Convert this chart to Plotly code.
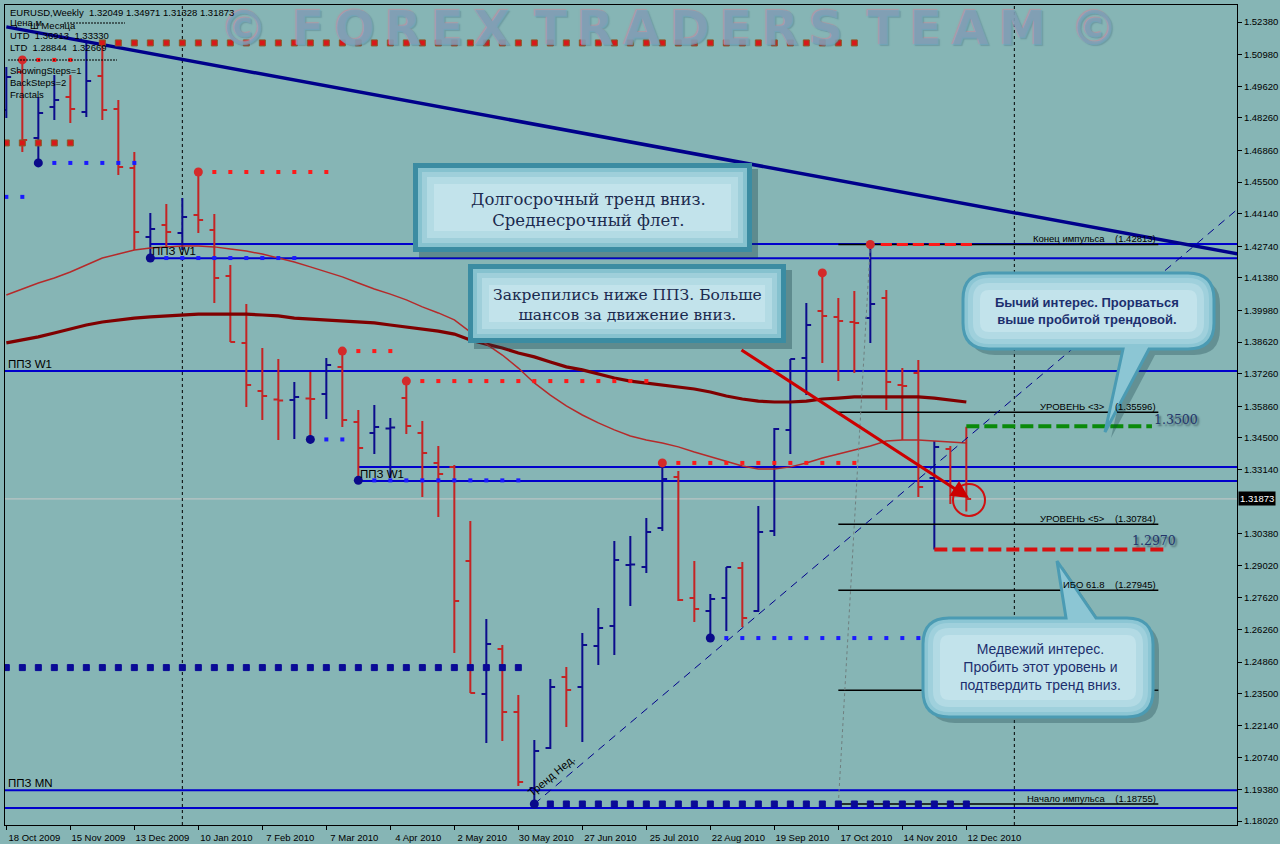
import plotly.graph_objects as go
import pandas as pd

# ---------------- data ----------------
week_dates = pd.date_range("2009-10-18", periods=61, freq="7D")

opens = [1.4860, 1.5023, 1.4739, 1.4873, 1.4916, 1.4851, 1.5006, 1.4864, 1.4610, 1.4314,
         1.4365, 1.4331, 1.4408, 1.4344, 1.4146, 1.3858, 1.3651, 1.3615, 1.3613, 1.3619,
         1.3638, 1.3755, 1.3518, 1.3471, 1.3490, 1.3621, 1.3471, 1.3342, 1.3325, 1.2920,
         1.2348, 1.2542, 1.2271, 1.1944, 1.2116, 1.2422, 1.2379, 1.2555, 1.2641, 1.2903,
         1.2895, 1.3062, 1.3282, 1.2761, 1.2705, 1.2761, 1.2890, 1.2705, 1.3049, 1.3484,
         1.3793, 1.3995, 1.3970, 1.3948, 1.3965, 1.4051, 1.3677, 1.3729, 1.3277, 1.3402,
         1.32049]
highs = [1.5045, 1.5075, 1.4916, 1.5010, 1.5010, 1.5148, 1.5148, 1.4903, 1.4679, 1.4417,
         1.4455, 1.4481, 1.4593, 1.4412, 1.4193, 1.4025, 1.3836, 1.3789, 1.3690, 1.3733,
         1.3793, 1.3823, 1.3570, 1.3591, 1.3535, 1.3694, 1.3522, 1.3415, 1.3333, 1.3092,
         1.2671, 1.2559, 1.2344, 1.2151, 1.2413, 1.2465, 1.2611, 1.2718, 1.3006, 1.3028,
         1.3105, 1.3342, 1.3307, 1.2920, 1.2778, 1.2895, 1.2916, 1.3157, 1.3492, 1.3789,
         1.4030, 1.4159, 1.4051, 1.4081, 1.42813, 1.4086, 1.3750, 1.3785, 1.3436, 1.3415,
         1.34971]
lows = [1.4825, 1.4679, 1.4632, 1.4817, 1.4804, 1.4830, 1.4817, 1.4580, 1.4258, 1.4223,
        1.4271, 1.4258, 1.4331, 1.4030, 1.3862, 1.3583, 1.3527, 1.3441, 1.3445, 1.3443,
        1.3531, 1.3497, 1.3267, 1.3380, 1.3277, 1.3466, 1.3196, 1.3110, 1.2525, 1.2353,
        1.2138, 1.2146, 1.1953, 1.18755, 1.2112, 1.2207, 1.2142, 1.2473, 1.2516, 1.2727,
        1.2869, 1.3049, 1.2748, 1.2658, 1.2589, 1.2619, 1.2637, 1.2701, 1.3028, 1.3380,
        1.3634, 1.3772, 1.3694, 1.3729, 1.3858, 1.3570, 1.3441, 1.3196, 1.2970, 1.3165,
        1.31328]
closes = [1.5002, 1.4731, 1.4847, 1.4903, 1.4864, 1.4984, 1.4860, 1.4615, 1.4335, 1.4348,
          1.4335, 1.4400, 1.4387, 1.4137, 1.3862, 1.3677, 1.3630, 1.3610, 1.3626, 1.3617,
          1.3763, 1.3527, 1.3406, 1.3497, 1.3494, 1.3501, 1.3385, 1.3294, 1.2748, 1.2353,
          1.2563, 1.2271, 1.1970, 1.2103, 1.2379, 1.2366, 1.2559, 1.2632, 1.2925, 1.2905,
          1.3045, 1.3273, 1.2753, 1.2714, 1.2757, 1.2895, 1.2675, 1.3045, 1.3488, 1.3789,
          1.3935, 1.3974, 1.3952, 1.3944, 1.4025, 1.3690, 1.3673, 1.3239, 1.3411, 1.3205,
          1.31873]

ma_fast = [1.4064, 1.4090, 1.4116, 1.4137, 1.4163, 1.4193, 1.4223, 1.4240, 1.4258, 1.4266,
           1.4271, 1.4275, 1.4275, 1.4271, 1.4262, 1.4253, 1.4240, 1.4223, 1.4206, 1.4185,
           1.4163, 1.4142, 1.4116, 1.4090, 1.4068, 1.4043, 1.4013, 1.3987, 1.3957, 1.3905,
           1.3853, 1.3806, 1.3750, 1.3686, 1.3634, 1.3587, 1.3548, 1.3514, 1.3484, 1.3458,
           1.3441, 1.3428, 1.3411, 1.3389, 1.3368, 1.3350, 1.3329, 1.3316, 1.3316, 1.3325,
           1.3342, 1.3363, 1.3380, 1.3398, 1.3415, 1.3436, 1.3441, 1.3441, 1.3436, 1.3432,
           1.3428]
ma_slow = [1.3858, 1.3871, 1.3884, 1.3901, 1.3918, 1.3935, 1.3948, 1.3957, 1.3965, 1.3970,
           1.3974, 1.3978, 1.3982, 1.3982, 1.3982, 1.3982, 1.3978, 1.3974, 1.3965, 1.3961,
           1.3957, 1.3952, 1.3948, 1.3944, 1.3935, 1.3927, 1.3918, 1.3909, 1.3896, 1.3871,
           1.3853, 1.3836, 1.3815, 1.3798, 1.3776, 1.3755, 1.3742, 1.3724, 1.3707, 1.3694,
           1.3686, 1.3677, 1.3669, 1.3660, 1.3647, 1.3630, 1.3617, 1.3608, 1.3604, 1.3604,
           1.3608, 1.3617, 1.3621, 1.3626, 1.3626, 1.3626, 1.3626, 1.3626, 1.3621, 1.3613,
           1.3604]

# fractal points (bar indices)
fractal_high_bars = [1, 12, 21, 25, 41, 51, 54]
fractal_low_bars = [2, 9, 19, 22, 33, 44]

# fractal levels continued as dotted rows: source bar, H/L, last bar of the row
level_src_bar = [1, 2, 9, 12, 19, 21, 22, 25, 41, 44, 54]
level_kind = ["H", "L", "L", "H", "L", "H", "L", "H", "H", "L", "H"]
level_last_bar = [4, 8, 18, 20, 21, 24, 32, 40, 53, 60, 60]

# higher-timeframe levels (big squares)
htf_prices = [1.5148, 1.4718, 1.2462, 1.18755]
htf_first_bar = [6, 0, 0, 34]
htf_last_bar = [53, 4, 32, 60]
htf_kind = ["H", "H", "L", "L"]
small_blue_price, small_blue_bars = 1.4486, [0, 1]

# support/resistance zone lines (ППЗ)
zone_prices = [1.4283, 1.4222, 1.3737, 1.3324, 1.3264, 1.1935, 1.1858]
zone_first_bar = [9, 9, 0, 22, 22, 0, 0]
zone_label_text = ["ППЗ W1", "ППЗ W1", "ППЗ W1", "ППЗ MN"]
zone_label_price = [1.4222, 1.3737, 1.3264, 1.1935]
zone_label_bar = [9, 0, 22, 0]

# Fibonacci levels
fib_prices = [1.42813, 1.35596, 1.30784, 1.27945, 1.23650, 1.18755]
fib_names = ["Конец импульса", "УРОВЕНЬ &lt;3&gt;", "УРОВЕНЬ &lt;5&gt;", "ИБО 61.8", "", "Начало импульса"]
fib_bars = [52, 72]
fib_diag_bars = [52, 54]
fib_diag_prices = [1.18755, 1.42813]

# trend lines (bar index, price)
long_trend_bars = [0, 77]
long_trend_prices = [1.5217, 1.4240]
week_trend_bars = [33, 77]
week_trend_prices = [1.18755, 1.4436]

# target levels
target_prices = [1.3500, 1.2970]
target_first_bar = [60, 58]
target_last_bar = [71.6, 72.5]

y_ticks = [1.52380, 1.50980, 1.49620, 1.48260, 1.46860, 1.45500, 1.44140, 1.42740, 1.41380,
           1.39980, 1.38620, 1.37260, 1.35860, 1.34500, 1.33140, 1.30380, 1.29020, 1.27620,
           1.26260, 1.24860, 1.23500, 1.22140, 1.20740, 1.19380, 1.18020]
last_price = 1.31873

# ---------------- helpers ----------------
BG = "#86b5b5"
UP = "#0c0c8c"
DN = "#c42424"
ZONE = "#0000cc"
FONT = "Liberation Sans"

d0 = week_dates[0]


def bar_date(i):
    return d0 + pd.Timedelta(days=7 * i)


# plot area in pixels: x 5..1237, y 5..825
PL, PR, PT, PB = 5, 1237, 5, 825


def X(px):
    return (px - PL) / (PR - PL)


def Y(py):
    return 1 - (py - PT) / (PB - PT)


def fx(px):
    return f"{X(px):.5f}"


def fy(py):
    return f"{Y(py):.5f}"


fig = go.Figure()

# moving averages
fig.add_trace(go.Scatter(x=week_dates, y=ma_slow, mode="lines",
                         line=dict(color="#7f0000", width=3.2), hoverinfo="skip"))
fig.add_trace(go.Scatter(x=week_dates, y=ma_fast, mode="lines",
                         line=dict(color="#b52a2a", width=1.5), hoverinfo="skip"))

# price bars
fig.add_trace(go.Ohlc(x=week_dates, open=opens, high=highs, low=lows, close=closes,
                      increasing=dict(line=dict(color=UP, width=2)),
                      decreasing=dict(line=dict(color=DN, width=2)),
                      tickwidth=0.3, hoverinfo="skip"))

# fib lines
for p in fib_prices:
    fig.add_trace(go.Scatter(x=[bar_date(fib_bars[0]), bar_date(fib_bars[1])], y=[p, p],
                             mode="lines", line=dict(color="black", width=1.5), hoverinfo="skip"))
fig.add_trace(go.Scatter(x=[bar_date(b) for b in fib_diag_bars], y=fib_diag_prices, mode="lines",
                         line=dict(color="#6f7f7f", width=1, dash="dot"), hoverinfo="skip"))

# trend lines
fig.add_trace(go.Scatter(x=[bar_date(b) for b in long_trend_bars], y=long_trend_prices, mode="lines",
                         line=dict(color="#00008b", width=3.5), hoverinfo="skip"))
fig.add_trace(go.Scatter(x=[bar_date(b) for b in week_trend_bars], y=week_trend_prices, mode="lines",
                         line=dict(color="#00008b", width=1, dash="8px,6px"), hoverinfo="skip"))

# fractal level rows
for b, k, last in zip(level_src_bar, level_kind, level_last_bar):
    price = highs[b] if k == "H" else lows[b]
    xs = [bar_date(i) for i in range(b + 1, last + 1)]
    col = "#ff1a1a" if k == "H" else "#1a1aff"
    sym = "line-ew-open" if b == 54 else "square"
    fig.add_trace(go.Scatter(x=xs, y=[price] * len(xs), mode="markers",
                             marker=dict(symbol=sym, size=4 if sym == "square" else 8, color=col,
                                         line=dict(width=3 if sym != "square" else 0, color=col)),
                             hoverinfo="skip"))
xs = [bar_date(i) for i in small_blue_bars]
fig.add_trace(go.Scatter(x=xs, y=[small_blue_price] * len(xs), mode="markers",
                         marker=dict(symbol="square", size=4, color="#1a1aff"), hoverinfo="skip"))
for p, a, z, k in zip(htf_prices, htf_first_bar, htf_last_bar, htf_kind):
    xs = [bar_date(i) for i in range(a, z + 1)]
    col = "#d81818" if k == "H" else "#0a0a96"
    fig.add_trace(go.Scatter(x=xs, y=[p] * len(xs), mode="markers",
                             marker=dict(symbol="square", size=6, color=col,
                                         line=dict(width=1, color="#8a5a2a" if k == "H" else "#0a0a96")),
                             hoverinfo="skip"))

# fractal dots
fig.add_trace(go.Scatter(x=[week_dates[i] for i in fractal_high_bars], y=[highs[i] for i in fractal_high_bars],
                         mode="markers", marker=dict(size=9, color="#d42a2a"), hoverinfo="skip"))
fig.add_trace(go.Scatter(x=[week_dates[i] for i in fractal_low_bars], y=[lows[i] for i in fractal_low_bars],
                         mode="markers", marker=dict(size=9, color="#0a0a8a"), hoverinfo="skip"))

# target dashed lines
fig.add_trace(go.Scatter(x=[bar_date(target_first_bar[0]), bar_date(target_last_bar[0])],
                         y=[target_prices[0]] * 2, mode="lines",
                         line=dict(color="#0a8a0a", width=4, dash="13px,5px"), hoverinfo="skip"))
fig.add_trace(go.Scatter(x=[bar_date(target_first_bar[1]), bar_date(target_last_bar[1])],
                         y=[target_prices[1]] * 2, mode="lines",
                         line=dict(color="#d81010", width=4, dash="13px,5px"), hoverinfo="skip"))

shapes = []
annotations = []

# zone lines (below traces)
for p, b in zip(zone_prices, zone_first_bar):
    x0 = bar_date(b) if b > 0 else bar_date(-2)
    shapes.append(dict(type="line", xref="x", yref="y", x0=x0, x1=bar_date(90), y0=p, y1=p,
                       line=dict(color=ZONE, width=2), layer="below"))
# current price line
shapes.append(dict(type="line", xref="paper", yref="y", x0=0, x1=1, y0=last_price, y1=last_price,
                   line=dict(color="#c8c8c8", width=1), layer="below"))
# period separators
for d in ["2010-01-03", "2011-01-02"]:
    shapes.append(dict(type="line", xref="x", yref="paper", x0=d, x1=d, y0=0, y1=1,
                       line=dict(color="black", width=1, dash="3px,3px"), layer="below"))


def rect_box(x0, y0, x1, y1):
    shapes.append(dict(type="rect", xref="paper", yref="paper", x0=X(x0 + 6), x1=X(x1 + 6),
                       y0=Y(y1 + 6), y1=Y(y0 + 6), fillcolor="rgba(20,60,70,0.35)", line_width=0))
    fills = ["#3b8ca2", "#86c2cf", "#9fcfda", "#b3dbe4", "#c2e3eb"]
    insets = [0, 5, 9, 14, 21]
    for f, ins in zip(fills, insets):
        shapes.append(dict(type="rect", xref="paper", yref="paper", x0=X(x0 + ins), x1=X(x1 - ins),
                           y0=Y(y1 - ins), y1=Y(y0 + ins), fillcolor=f, line_width=0))


def callout(x0, y0, x1, y1, r, tail=None, inset=0, dx=0, dy=0):
    x0 += inset + dx; x1 += -inset + dx; y0 += inset + dy; y1 += -inset + dy
    r = max(r - inset, 3)
    s = f"M{fx(x0 + r)},{fy(y0)}"
    if tail and tail[0] == "top":
        _, bx0, bx1, tx, ty = tail
        s += f" L{fx(bx0 + dx)},{fy(y0)} L{fx(tx + dx)},{fy(ty + dy)} L{fx(bx1 + dx)},{fy(y0)}"
    s += f" L{fx(x1 - r)},{fy(y0)} Q{fx(x1)},{fy(y0)} {fx(x1)},{fy(y0 + r)}"
    s += f" L{fx(x1)},{fy(y1 - r)} Q{fx(x1)},{fy(y1)} {fx(x1 - r)},{fy(y1)}"
    if tail and tail[0] == "bottom":
        _, bx0, bx1, tx, ty = tail
        s += f" L{fx(bx1 + dx)},{fy(y1)} L{fx(tx + dx)},{fy(ty + dy)} L{fx(bx0 + dx)},{fy(y1)}"
    s += f" L{fx(x0 + r)},{fy(y1)} Q{fx(x0)},{fy(y1)} {fx(x0)},{fy(y1 - r)}"
    s += f" L{fx(x0)},{fy(y0 + r)} Q{fx(x0)},{fy(y0)} {fx(x0 + r)},{fy(y0)} Z"
    return s


def rounded_box(x0, y0, x1, y1, r, tail):
    shapes.append(dict(type="path", xref="paper", yref="paper",
                       path=callout(x0, y0, x1, y1, r, tail, dx=6, dy=6),
                       fillcolor="rgba(20,60,70,0.30)", line_width=0))
    shapes.append(dict(type="path", xref="paper", yref="paper", path=callout(x0, y0, x1, y1, r, tail),
                       fillcolor="#8cc6d4", line=dict(color="#4b9bb3", width=3)))
    for f, ins in zip(["#9fd0dc", "#b2dae4", "#c2e3eb"], [5, 10, 17]):
        shapes.append(dict(type="path", xref="paper", yref="paper", path=callout(x0, y0, x1, y1, r, None, ins),
                           fillcolor=f, line_width=0))


rect_box(413, 163, 752, 252)
rect_box(468, 264, 786, 343)
rounded_box(963, 273, 1214, 349, 26, ("bottom", 1123, 1149, 1105, 432))
rounded_box(923, 618, 1153, 717, 26, ("top", 1066, 1096, 1057, 561))

# red circle
shapes.append(dict(type="circle", xref="paper", yref="paper", x0=X(953), x1=X(985), y0=Y(516), y1=Y(484),
                   line=dict(color="#d01010", width=2)))

TXT = "#1b2a4e"


def centered(x, y, text, font):
    annotations.append(dict(xref="paper", yref="paper", x=X(x), y=Y(y), xanchor="center", yanchor="middle",
                            showarrow=False, text=text, font=font, align="center"))


centered(588, 210, "Долгосрочный тренд вниз.<br>Среднесрочный флет.",
         dict(family="DejaVu Serif", size=16.5, color=TXT))
centered(627, 305, "Закрепились ниже ППЗ. Больше<br>шансов за движение вниз.",
         dict(family="DejaVu Serif", size=15.5, color=TXT))
centered(1087, 311, "<b>Бычий интерес. Прорваться<br>выше пробитой трендовой.</b>",
         dict(family=FONT, size=13, color="#1c2f6e"))
centered(1040, 667, "Медвежий интерес.<br>Пробить этот уровень и<br>подтвердить тренд вниз.",
         dict(family=FONT, size=14, color="#1c2f6e"))

# red arrow
annotations.append(dict(xref="paper", yref="paper", x=X(969), y=Y(498), ax=-229, ay=-149, text="",
                        showarrow=True, arrowhead=2, arrowsize=1.1, arrowwidth=3.2, arrowcolor="#cc0000",
                        standoff=0))

# zone labels
for t, p, b in zip(zone_label_text, zone_label_price, zone_label_bar):
    if b == 0:
        annotations.append(dict(xref="paper", yref="y", x=0, y=p, xanchor="left", yanchor="bottom",
                                text=t, showarrow=False, yshift=-1, xshift=1,
                                font=dict(family=FONT, size=11.5, color="black")))
    else:
        annotations.append(dict(xref="x", yref="y", x=week_dates[b], y=p, xanchor="left", yanchor="bottom",
                                text=t, showarrow=False, yshift=-1,
                                font=dict(family=FONT, size=11.5, color="black")))

# fib labels
for name, p in zip(fib_names, fib_prices):
    if not name:
        continue
    annotations.append(dict(xref="x", yref="y", x=bar_date(fib_bars[1]), y=p, xanchor="right",
                            yanchor="bottom", showarrow=False, yshift=-2,
                            text=f"{name}\u00a0\u00a0\u00a0\u00a0({p:.5f})",
                            font=dict(family=FONT, size=9.5, color="black")))

# target labels
annotations.append(dict(xref="x", yref="y", x=bar_date(target_last_bar[0]), y=target_prices[0],
                        xanchor="left", yanchor="middle", showarrow=False, text=f"{target_prices[0]:.4f}",
                        yshift=7,
                        font=dict(family="DejaVu Serif", size=12.5, color="#24346a",
                                  shadow="2px 2px 2px rgba(20,40,50,0.6)")))
annotations.append(dict(xref="x", yref="y", x=bar_date(target_last_bar[1]) - pd.Timedelta(days=16),
                        y=target_prices[1], xanchor="left", yanchor="middle", showarrow=False,
                        text=f"{target_prices[1]:.4f}", yshift=9,
                        font=dict(family="DejaVu Serif", size=12.5, color="#24346a",
                                  shadow="2px 2px 2px rgba(20,40,50,0.6)")))

# trend label
annotations.append(dict(xref="paper", yref="paper", x=X(551), y=Y(776), xanchor="center", yanchor="middle",
                        showarrow=False, textangle=-40,
                        text="Тренд Нед.", font=dict(family=FONT, size=11, color="black")))

# watermark
wm = "\u2002".join("\u2009".join(w) for w in ["©", "FOREX", "TRADERS", "TEAM", "©"])
annotations.append(dict(xref="paper", yref="paper", x=X(669), y=Y(28), xanchor="center", yanchor="middle",
                        showarrow=False, text=f"<b>{wm}</b>", borderpad=0,
                        font=dict(family="DejaVu Sans", size=48, color="rgba(112,168,192,0.70)",
                                  shadow="-1px -1px 1px rgba(205,130,150,0.85), 1px 1px 1px rgba(70,110,130,0.5)")))

# header info texts
hdr = [("EURUSD,Weekly  1.32049 1.34971 1.31328 1.31873", 8, 12),
       ("Цена м", 8, 22), ("Ш Месяца", 28, 25),
       ("UTD  1.36913  1.33330", 8, 35), ("LTD  1.28844  1.32669", 8, 47),
       ("ShowingSteps=1", 8, 71), ("BackSteps=2", 8, 83), ("Fractals", 8, 95)]
for t, x, y in hdr:
    annotations.append(dict(xref="paper", yref="paper", x=X(x), y=Y(y), xanchor="left", yanchor="middle",
                            showarrow=False, text=t, font=dict(family=FONT, size=9.5, color="black")))
for x0, x1, y in [(64, 125, 23), (8, 117, 60)]:
    shapes.append(dict(type="line", xref="paper", yref="paper", x0=X(x0), x1=X(x1), y0=Y(y), y1=Y(y),
                       line=dict(color="black", width=1, dash="2px,1px")))

# current price label
annotations.append(dict(xref="paper", yref="y", x=1, y=last_price, xanchor="left", yanchor="middle",
                        xshift=1, showarrow=False, text=f"{last_price:.5f}", bgcolor="black", borderpad=1,
                        font=dict(family=FONT, size=9.5, color="white")))

tick_idx = list(range(0, 61, 4))
x_tickvals = [week_dates[i] for i in tick_idx]
x_ticktext = [f"{d.day} {d.strftime('%b %Y')}" for d in x_tickvals]

x_left = d0 - pd.Timedelta(hours=14)
fig.update_layout(
    width=1280, height=844,
    margin=dict(l=PL, r=1280 - PR, t=PT, b=844 - PB, autoexpand=False),
    paper_bgcolor=BG, plot_bgcolor=BG,
    showlegend=False, hovermode=False,
    shapes=shapes, annotations=annotations,
    xaxis=dict(type="date", range=[x_left, x_left + pd.Timedelta(weeks=77)], automargin=False,
               rangeslider=dict(visible=False), showgrid=False, zeroline=False,
               tickvals=x_tickvals, ticktext=x_ticktext, ticks="outside", ticklen=4, tickcolor="black",
               ticklabelshift=28, ticklabelstandoff=0,
               showline=True, linecolor="black", linewidth=1, mirror=True,
               tickfont=dict(family=FONT, size=9.5, color="black")),
    yaxis=dict(side="right", range=[1.17851, 1.53111], showgrid=False, zeroline=False, automargin=False,
               tickvals=y_ticks, ticktext=[f"{v:.5f}" for v in y_ticks], ticks="outside", ticklen=4,
               tickcolor="black", showline=True, linecolor="black", linewidth=1, mirror=True,
               tickfont=dict(family=FONT, size=9.5, color="black")),
)

fig.write_html("out.html", config={"displayModeBar": False},
               post_script="document.body.style.margin='0px';document.body.style.background='" + BG + "';")
